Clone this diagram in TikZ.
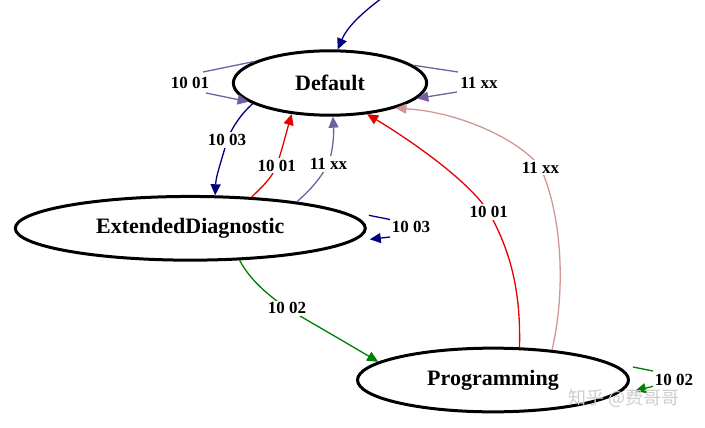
\documentclass[tikz,border=0pt]{standalone}
\usepackage{fontspec}
\setmainfont{Liberation Serif}
\newfontfamily\cjkfont{Noto Sans CJK SC}
\usetikzlibrary{shapes.geometric,arrows.meta,calc}
\definecolor{navyc}{RGB}{0,0,128}
\definecolor{purc}{RGB}{112,96,160}
\definecolor{redc}{RGB}{230,0,0}
\definecolor{pinkc}{RGB}{210,150,150}
\definecolor{greenc}{RGB}{0,128,0}
\definecolor{wmark}{RGB}{205,205,205}
\begin{document}
\begin{tikzpicture}[x=1pt,y=-1pt,
  state/.style={ellipse,draw,line width=3pt,inner sep=0pt,font=\fontsize{22}{26}\selectfont\bfseries},
  lbl/.style={fill=white,inner sep=2pt,font=\fontsize{17}{20}\selectfont\bfseries},
  edge/.style={line width=1.3pt,-{Triangle[length=11pt,width=10pt]}},
  seg/.style={line width=1.3pt},
]
\useasboundingbox (0,0) rectangle (705,428);
% states
\node[state,minimum width=193.3pt,minimum height=64.4pt] (def) at (330,83) {Default};
\node[state,minimum width=350pt,minimum height=63.7pt] (ed) at (190.3,228.3) {ExtendedDiagnostic};
\node[state,minimum width=271pt,minimum height=63.7pt] (prog) at (493,380) {Programming};
% label positions
\coordinate (cDL) at (190,82.5);
\coordinate (cDR) at (479,82.5);
\coordinate (c1003) at (227,140);
\coordinate (cRed1) at (276.7,165.5);
\coordinate (cPur) at (328.5,164);
\coordinate (cEL) at (411,226.7);
\coordinate (cGreen) at (287,308.3);
\coordinate (cRed2) at (488.7,212);
\coordinate (cPink) at (540.5,167.5);
\coordinate (cPL) at (674,380);
% loop points
\coordinate (top) at (382,-2);
\coordinate (dl1) at (203,72);
\coordinate (dl2) at (206,93);
\coordinate (dr1) at (458,72);
\coordinate (dr2) at (457,92);
\coordinate (el1) at (390,219.5);
\coordinate (el2) at (390,237);
\coordinate (pl1) at (653,371);
\coordinate (pl2) at (654,386);
% edges
\draw[edge,navyc] (top) .. controls (366,10) and (348,25) .. (def.77);
\draw[seg,purc] (def.164) -- (dl1);
\draw[edge,purc] (dl2) -- (def.193);
\draw[seg,purc] (def.12) -- (dr1);
\draw[edge,purc] (dr2) -- (def.350);
\draw[edge,navyc] (def.195) .. controls (240,115) and (232,128) .. (c1003)
  .. controls (222,160) and (216,175) .. (ed.53);
\draw[edge,redc] (ed.27) .. controls (262,187) and (272,178) .. (cRed1)
  .. controls (282,150) and (287,130) .. (def.219);
\draw[edge,purc] (ed.14) .. controls (308,192) and (318,182) .. (cPur)
  .. controls (333,150) and (334,135) .. (def.275);
\draw[seg,navyc] ($(ed.east)+(2,-13)$) -- (el1);
\draw[edge,navyc] (el2) -- ($(ed.east)+(3,11)$);
\draw[edge,greenc] (ed.327) .. controls (250,280) and (268,295) .. (cGreen)
  .. controls (310,322) and (345,342) .. (prog.171);
\draw[edge,redc] (prog.51) .. controls (521,290) and (510,250) .. (cRed2)
  .. controls (468,180) and (410,140) .. (def.320);
\draw[edge,pinkc] (prog.27) .. controls (566,290) and (562,215) .. (cPink)
  .. controls (520,140) and (460,112) .. (def.339);
\draw[seg,greenc] ($(prog.east)+(3,-13)$) -- (pl1);
\draw[edge,greenc] (pl2) -- ($(prog.east)+(5,11)$);
% labels
\node[lbl] (lDL) at (cDL) {10 01};
\node[lbl] (lDR) at (cDR) {11 xx};
\node[lbl] (l1003) at (c1003) {10 03};
\node[lbl] (lRed1) at (cRed1) {10 01};
\node[lbl] (lPur) at (cPur) {11 xx};
\node[lbl] (lEL) at (cEL) {10 03};
\node[lbl] (lGreen) at (cGreen) {10 02};
\node[lbl] (lRed2) at (cRed2) {10 01};
\node[lbl] (lPink) at (cPink) {11 xx};
\node[lbl] (lPL) at (cPL) {10 02};
% watermark
\node[text=wmark,font=\cjkfont\fontsize{18}{20}\selectfont,inner sep=0pt] (wm) at (624,398) {知乎 @费哥哥};
\end{tikzpicture}
\end{document}
